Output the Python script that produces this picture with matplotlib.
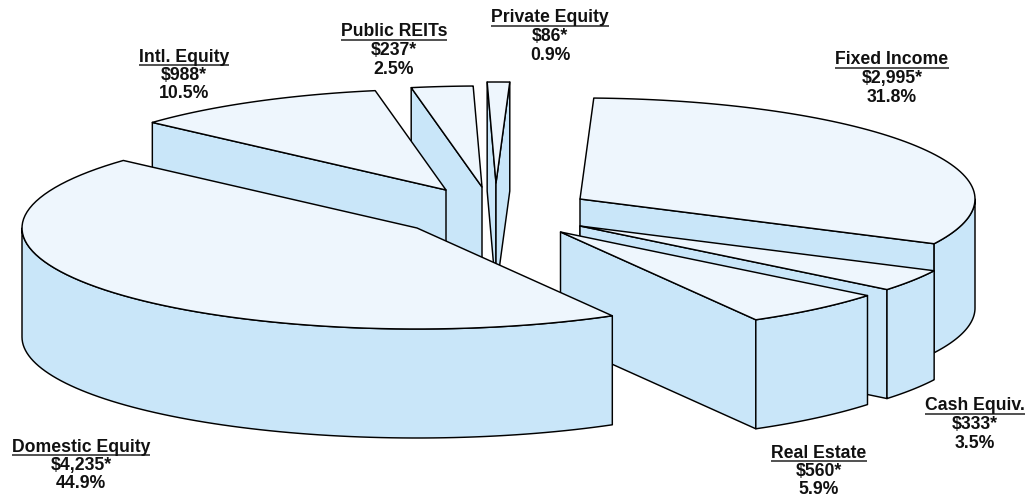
import numpy as np
import matplotlib
matplotlib.use("Agg")
import matplotlib.pyplot as plt

# --- asset classes, clockwise from the top of the pie ---
names = ["Fixed Income", "Cash Equiv.", "Real Estate", "Domestic Equity",
         "Intl. Equity", "Public REITs", "Private Equity"]
amounts = [2995, 333, 560, 4235, 988, 237, 86]
amount_labels = ["$2,995*", "$333*", "$560*", "$4,235*", "$988*", "$237*", "$86*"]
pct_labels = ["31.8%", "3.5%", "5.9%", "44.9%", "10.5%", "2.5%", "0.9%"]

# where each exploded slice has its tip, and where its label is centred
tips = [(580, 199), (580, 226), (560.5, 232), (417, 228), (446, 190), (482, 187), (496, 183)]
label_pos = [(892, 60), (975, 406), (819, 453), (81, 447), (184, 57), (394, 32), (550, 18)]

RX, RY, DEPTH = 395, 101, 109
START = 88
TOP = "#eef6fd"
SIDE = "#c9e6f9"
LW = 1.05
LINE_GAP = 18.5


def rim(tip, t):
    t = np.radians(t)
    return tip[0] + RX * np.cos(t), tip[1] - RY * np.sin(t)


def arc(tip, t0, t1, n=80):
    x, y = rim(tip, np.linspace(t0, t1, n))
    return list(x), list(y)


def wall_faces_front(tip, t_edge, t_mid):
    # the straight cut is visible when its outward normal points down the page
    ex, ey = rim(tip, t_edge)
    mx, my = rim(tip, t_mid)
    ex, ey, mx, my = ex - tip[0], ey - tip[1], mx - tip[0], my - tip[1]
    nx, ny = -ey, ex
    if nx * mx + ny * my > 0:
        ny = -ny
    return ny > 0


def draw_slice(ax, tip, t0, t1):
    mid = (t0 + t1) / 2
    for edge in (t0, t1):
        if wall_faces_front(tip, edge, mid):
            ex, ey = rim(tip, edge)
            ax.fill([tip[0], ex, ex, tip[0]], [tip[1], ey, ey + DEPTH, tip[1] + DEPTH],
                    fc=SIDE, ec="black", lw=LW, joinstyle="round")
    # outer skin only exists on the near half of the ellipse
    lo, hi = max(t1, -180), min(t0, 0)
    if hi > lo:
        x, y = arc(tip, hi, lo)
        ax.fill(x + x[::-1], y + [v + DEPTH for v in y[::-1]],
                fc=SIDE, ec="black", lw=LW, joinstyle="round")
    x, y = arc(tip, t0, t1)
    ax.fill([tip[0]] + x, [tip[1]] + y, fc=TOP, ec="black", lw=LW, joinstyle="round")


fig = plt.figure(figsize=(10.26, 4.97), dpi=100)
ax = fig.add_axes([0, 0, 1, 1])
ax.set_xlim(0, 1026)
ax.set_ylim(497, 0)
ax.axis("off")

sweeps = np.array(amounts) / sum(amounts) * 360
ends = START - np.cumsum(sweeps)
starts = ends + sweeps

# back slices first, the big front slice last
for i in [6, 5, 4, 0, 1, 2, 3]:
    draw_slice(ax, tips[i], starts[i], ends[i])

font = dict(family="Liberation Sans", weight="bold", fontsize=12.7, color="#111111",
            ha="center", va="center")
renderer = fig.canvas.get_renderer()
for i in range(len(names)):
    x, y = label_pos[i]
    title = ax.text(x, y, names[i], **font)
    ax.text(x, y + LINE_GAP, amount_labels[i], **font)
    ax.text(x, y + 2 * LINE_GAP, pct_labels[i], **font)
    # underline the class name
    box = title.get_window_extent(renderer)
    ax.plot([box.x0, box.x1], [y + 7.5, y + 7.5], color="#222222", lw=1.1, solid_capstyle="butt")

fig.savefig("out.png", dpi=100)
